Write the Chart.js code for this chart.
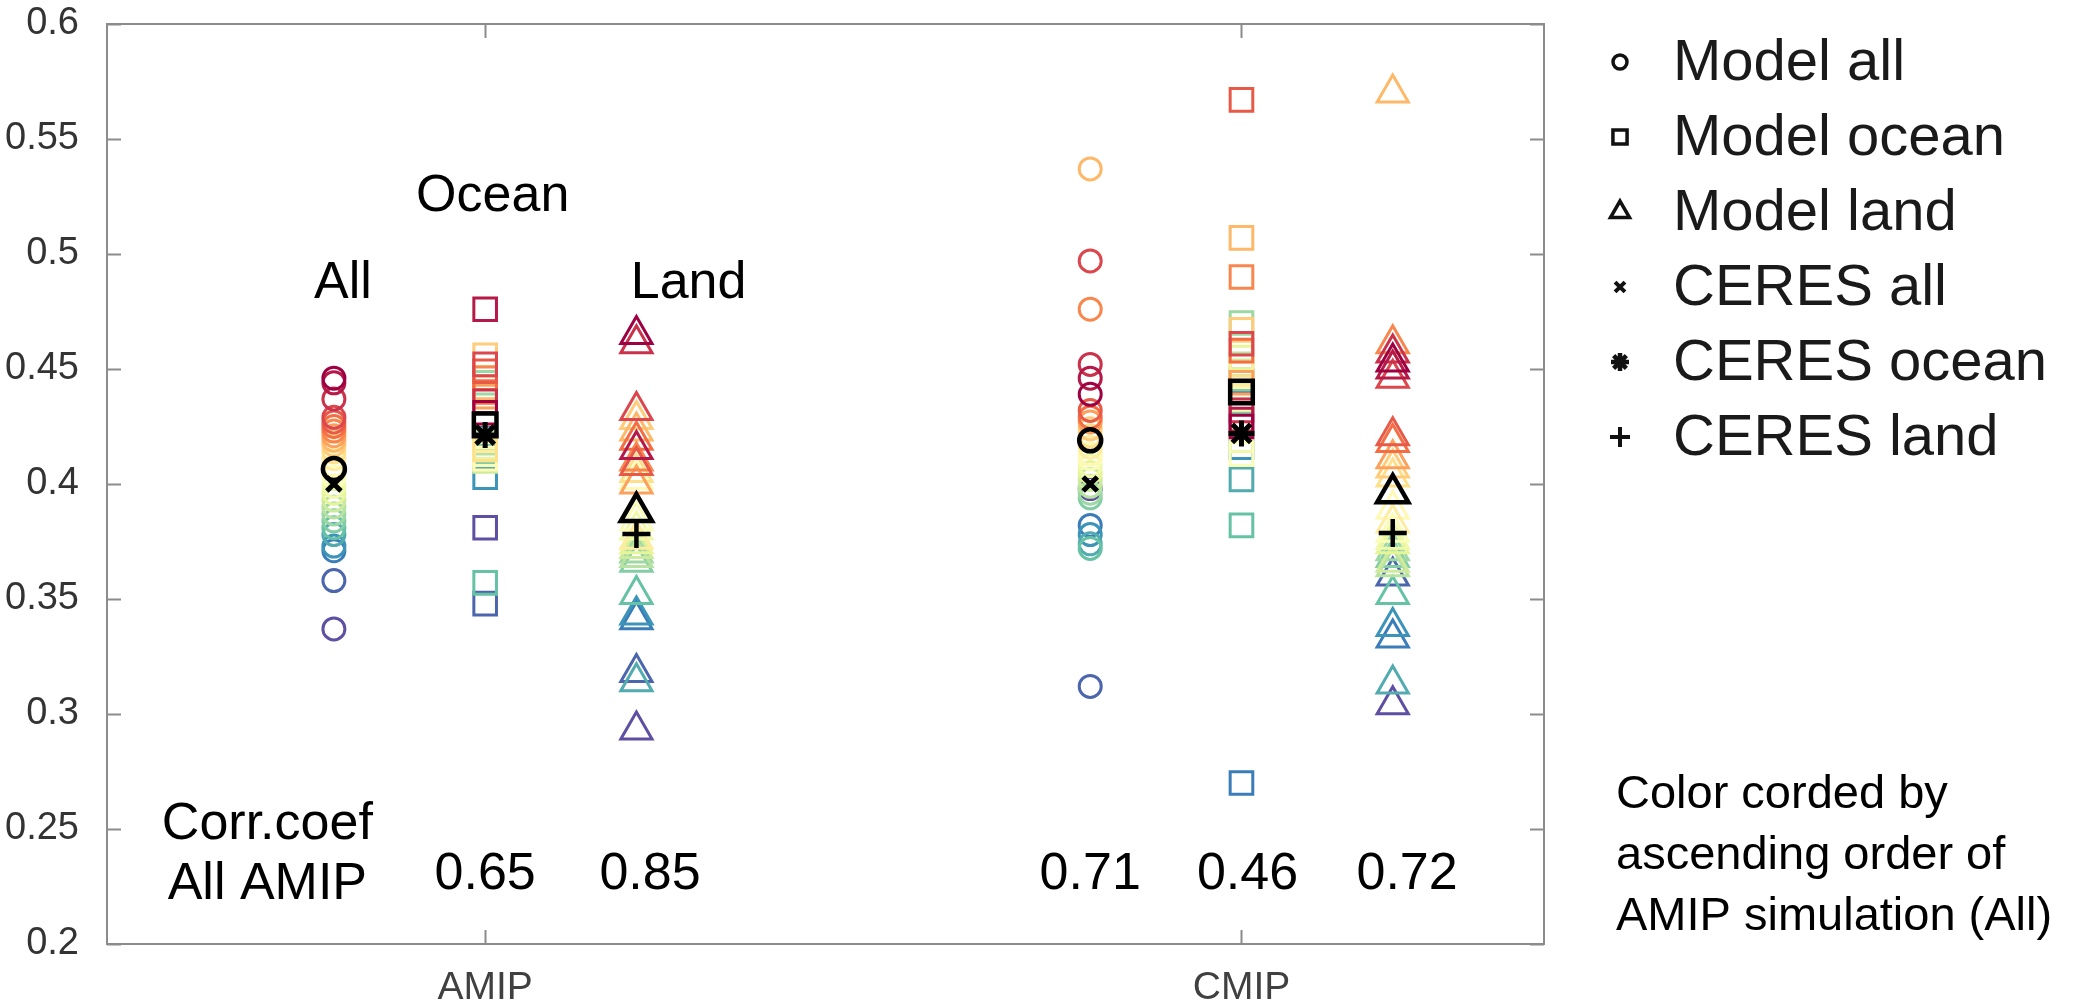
<!DOCTYPE html>
<html>
<head>
<meta charset="utf-8">
<script src="https://cdn.jsdelivr.net/npm/chart.js@4.4.0/dist/chart.umd.min.js"></script>
<style>
  html, body { margin: 0; padding: 0; background: #fff; }
</style>
</head>
<body>
<canvas id="c" width="2085" height="1003"></canvas>
<script>
const FONT = "'Liberation Sans', Arial, sans-serif";

const groups = ["AMIP", "CMIP"];
const yTicks = [0.2, 0.25, 0.3, 0.35, 0.4, 0.45, 0.5, 0.55, 0.6];

// one value per model, models sorted by ascending AMIP (All)
const amipAll = [0.337, 0.358, 0.371, 0.373, 0.378, 0.381, 0.384, 0.387, 0.390, 0.393, 0.396, 0.399, 0.403,
  0.408, 0.411, 0.414, 0.417, 0.419, 0.421, 0.423, 0.425, 0.427, 0.429, 0.437, 0.444, 0.446];
const amipOcean = [0.381, 0.348, 0.420, 0.403, 0.412, 0.357, 0.414, 0.444, 0.418, 0.410, 0.416, 0.421, 0.413,
  0.411, 0.419, 0.415, 0.456, 0.442, 0.438, 0.446, 0.440, 0.449, 0.452, 0.436, 0.476, 0.431];
const amipLand = [0.293, 0.318, 0.341, 0.343, 0.314, 0.352, 0.366, 0.370, 0.368, 0.372, 0.374, 0.380, 0.384,
  0.402, 0.376, 0.405, 0.428, 0.423, 0.400, 0.410, 0.419, 0.408, 0.432, 0.461, 0.415, 0.465];
const cmipAll = [0.398, 0.312, 0.382, 0.378, 0.374, 0.372, 0.394, 0.396, 0.399, 0.402, 0.405, 0.408, 0.411,
  0.413, 0.416, 0.421, 0.424, 0.537, 0.427, 0.476, 0.429, 0.432, 0.497, 0.452, 0.446, 0.439];
const cmipOcean = [0.440, 0.445, 0.270, 0.416, 0.402, 0.382, 0.436, 0.470, 0.452, 0.449, 0.455, 0.419, 0.413,
  0.437, 0.448, 0.442, 0.467, 0.507, 0.444, 0.490, 0.458, 0.567, 0.461, 0.432, 0.428, 0.425];
const cmipLand = [0.304, 0.360, 0.333, 0.338, 0.313, 0.352, 0.368, 0.371, 0.364, 0.366, 0.374, 0.376, 0.379,
  0.389, 0.383, 0.403, 0.407, 0.570, 0.411, 0.461, 0.418, 0.421, 0.446, 0.457, 0.450, 0.453];

// multi-model values and CERES, [AMIP, CMIP]
const modelAllMean = [0.4065, 0.419];
const modelOceanMean = [0.4257, 0.440];
const modelLandMean = [0.3878, 0.396];
const ceresAll = [0.400, 0.400];
const ceresOcean = [0.4213, 0.422];
const ceresLand = [0.3783, 0.3787];

const corrCoef = ["0.65", "0.85", "0.71", "0.46", "0.72"];

// x offsets of the three columns inside each group
const colOffset = { all: -0.2, ocean: 0, land: 0.2 };

const spectral = ["#5e4fa2", "#3288bd", "#66c2a5", "#abdda4", "#e6f598", "#ffffbf",
  "#fee08b", "#fdae61", "#f46d43", "#d53e4f", "#9e0142"];

function hex(c) {
  return [1, 3, 5].map((i) => parseInt(c.slice(i, i + 2), 16));
}

function cmap(t) {
  const p = t * (spectral.length - 1);
  const i = Math.min(Math.floor(p), spectral.length - 2);
  const f = p - i;
  const a = hex(spectral[i]);
  const b = hex(spectral[i + 1]);
  const c = a.map((v, k) => Math.round(v + (b[k] - v) * f));
  return `rgb(${c[0]}, ${c[1]}, ${c[2]})`;
}

const modelColors = amipAll.map((_, i) => cmap(i / (amipAll.length - 1)));

function pts(vals, x) {
  return vals.map((v) => ({ x: x, y: v }));
}

function pair(vals, off) {
  return vals.map((v, i) => ({ x: i + 1 + off, y: v }));
}

const black = "#000";

const datasets = [
  { label: "CERES all", data: pair(ceresAll, colOffset.all), pointStyle: "crossRot", pointRadius: 10, pointBorderWidth: 5, pointBorderColor: black, order: 1 },
  { label: "CERES ocean", data: pair(ceresOcean, colOffset.ocean), pointStyle: "star", pointRadius: 13, pointBorderWidth: 5, pointBorderColor: black, order: 1 },
  { label: "CERES land", data: pair(ceresLand, colOffset.land), pointStyle: "cross", pointRadius: 14, pointBorderWidth: 4.5, pointBorderColor: black, order: 1 },
  { label: "Model all", data: pair(modelAllMean, colOffset.all), pointStyle: "circle", pointRadius: 11, pointBorderWidth: 4.5, pointBorderColor: black, order: 1 },
  { label: "Model ocean", data: pair(modelOceanMean, colOffset.ocean), pointStyle: "rect", pointRadius: 16, pointBorderWidth: 4.5, pointBorderColor: black, order: 1 },
  { label: "Model land", data: pair(modelLandMean, colOffset.land), pointStyle: "triangle", pointRadius: 18, pointBorderWidth: 4.5, pointBorderColor: black, order: 1 },
  { label: "all", data: pts(amipAll, 1 + colOffset.all).concat(pts(cmipAll, 2 + colOffset.all)), pointStyle: "circle", pointRadius: 11, pointBorderWidth: 3, pointBorderColor: modelColors.concat(modelColors), order: 2 },
  { label: "ocean", data: pts(amipOcean, 1 + colOffset.ocean).concat(pts(cmipOcean, 2 + colOffset.ocean)), pointStyle: "rect", pointRadius: 16, pointBorderWidth: 3, pointBorderColor: modelColors.concat(modelColors), order: 2 },
  { label: "land", data: pts(amipLand, 1 + colOffset.land).concat(pts(cmipLand, 2 + colOffset.land)), pointStyle: "triangle", pointRadius: 18, pointBorderWidth: 3, pointBorderColor: modelColors.concat(modelColors), order: 2 },
];
datasets.forEach((d) => {
  d.pointBackgroundColor = "rgba(0,0,0,0)";
  d.pointHoverRadius = d.pointRadius;
  d.showLine = false;
});

// text written in the plot, in data coordinates
const plotText = [
  { text: "All", x: 0.812, y: 0.487 },
  { text: "Ocean", x: 1.01, y: 0.525 },
  { text: "Land", x: 1.269, y: 0.487 },
  { text: "Corr.coef", x: 0.712, y: 0.252 },
  { text: "All AMIP", x: 0.712, y: 0.226 },
  { text: corrCoef[0], x: 1.0, y: 0.23 },
  { text: corrCoef[1], x: 1.218, y: 0.23 },
  { text: corrCoef[2], x: 1.8, y: 0.23 },
  { text: corrCoef[3], x: 2.008, y: 0.23 },
  { text: corrCoef[4], x: 2.219, y: 0.23 },
];

const legendItems = [
  { text: "Model all", style: "circle", r: 7, w: 3.5 },
  { text: "Model ocean", style: "rect", r: 10, w: 3.5 },
  { text: "Model land", style: "triangle", r: 11, w: 3.5 },
  { text: "CERES all", style: "crossRot", r: 7, w: 4 },
  { text: "CERES ocean", style: "star", r: 9, w: 4.5 },
  { text: "CERES land", style: "cross", r: 10, w: 4 },
];

const noteLines = ["Color corded by", "ascending order of", "AMIP simulation (All)"];

const decor = {
  id: "decor",
  afterDraw(chart) {
    const { ctx, chartArea: a, scales } = chart;
    const xs = scales.x;
    const ys = scales.y;
    ctx.save();
    ctx.strokeStyle = "#8c8c8c";
    ctx.lineWidth = 2;
    ctx.strokeRect(a.left, a.top, a.right - a.left, a.bottom - a.top);
    ctx.beginPath();
    yTicks.forEach((v) => {
      const py = Math.round(ys.getPixelForValue(v)) + 0.5;
      ctx.moveTo(a.left, py);
      ctx.lineTo(a.left + 14, py);
      ctx.moveTo(a.right, py);
      ctx.lineTo(a.right - 14, py);
    });
    groups.forEach((g, i) => {
      const px = Math.round(xs.getPixelForValue(i + 1)) + 0.5;
      ctx.moveTo(px, a.bottom);
      ctx.lineTo(px, a.bottom - 14);
      ctx.moveTo(px, a.top);
      ctx.lineTo(px, a.top + 14);
    });
    ctx.stroke();

    ctx.fillStyle = "#000";
    ctx.font = "52px " + FONT;
    ctx.textAlign = "center";
    ctx.textBaseline = "middle";
    plotText.forEach((t) => {
      ctx.fillText(t.text, xs.getPixelForValue(t.x), ys.getPixelForValue(t.y));
    });

    // legend
    ctx.textAlign = "left";
    ctx.font = "58px " + FONT;
    legendItems.forEach((it, i) => {
      const cy = 62 + i * 75;
      ctx.strokeStyle = "#111";
      ctx.fillStyle = "rgba(0,0,0,0)";
      ctx.lineWidth = it.w;
      Chart.helpers.drawPoint(ctx, { pointStyle: it.style, radius: it.r, borderWidth: it.w, rotation: 0 }, 1620, cy);
      ctx.fillStyle = "#1a1a1a";
      ctx.fillText(it.text, 1673, cy + 2);
    });

    ctx.font = "47px " + FONT;
    ctx.fillStyle = "#000";
    noteLines.forEach((l, i) => {
      ctx.fillText(l, 1616, 795 + i * 61);
    });
    ctx.restore();
  },
};

new Chart(document.getElementById("c"), {
  type: "scatter",
  data: { datasets: datasets },
  options: {
    responsive: false,
    animation: false,
    events: [],
    layout: { padding: { top: 24, right: 541, left: 0, bottom: 0 } },
    plugins: {
      legend: { display: false },
      tooltip: { enabled: false },
    },
    scales: {
      x: {
        type: "linear",
        min: 0.5,
        max: 2.4,
        grid: { display: false, drawTicks: false },
        border: { display: false },
        afterBuildTicks: (s) => {
          s.ticks = groups.map((g, i) => ({ value: i + 1 }));
        },
        afterFit: (s) => {
          s.height = 59;
          s.paddingLeft = 0;
          s.paddingRight = 0;
        },
        ticks: {
          padding: 21,
          color: "#404040",
          font: { family: FONT, size: 39 },
          callback: (v) => groups[v - 1] || "",
        },
      },
      y: {
        min: 0.2,
        max: 0.6,
        grid: { display: false, drawTicks: false },
        border: { display: false },
        afterBuildTicks: (s) => {
          s.ticks = yTicks.map((v) => ({ value: v }));
        },
        afterFit: (s) => {
          s.width = 107;
          s.paddingTop = 0;
          s.paddingBottom = 0;
        },
        ticks: {
          padding: 28,
          color: "#333",
          font: { family: FONT, size: 38 },
          callback: (v) => String(+v.toFixed(2)),
        },
      },
    },
  },
  plugins: [decor],
});
</script>
</body>
</html>
